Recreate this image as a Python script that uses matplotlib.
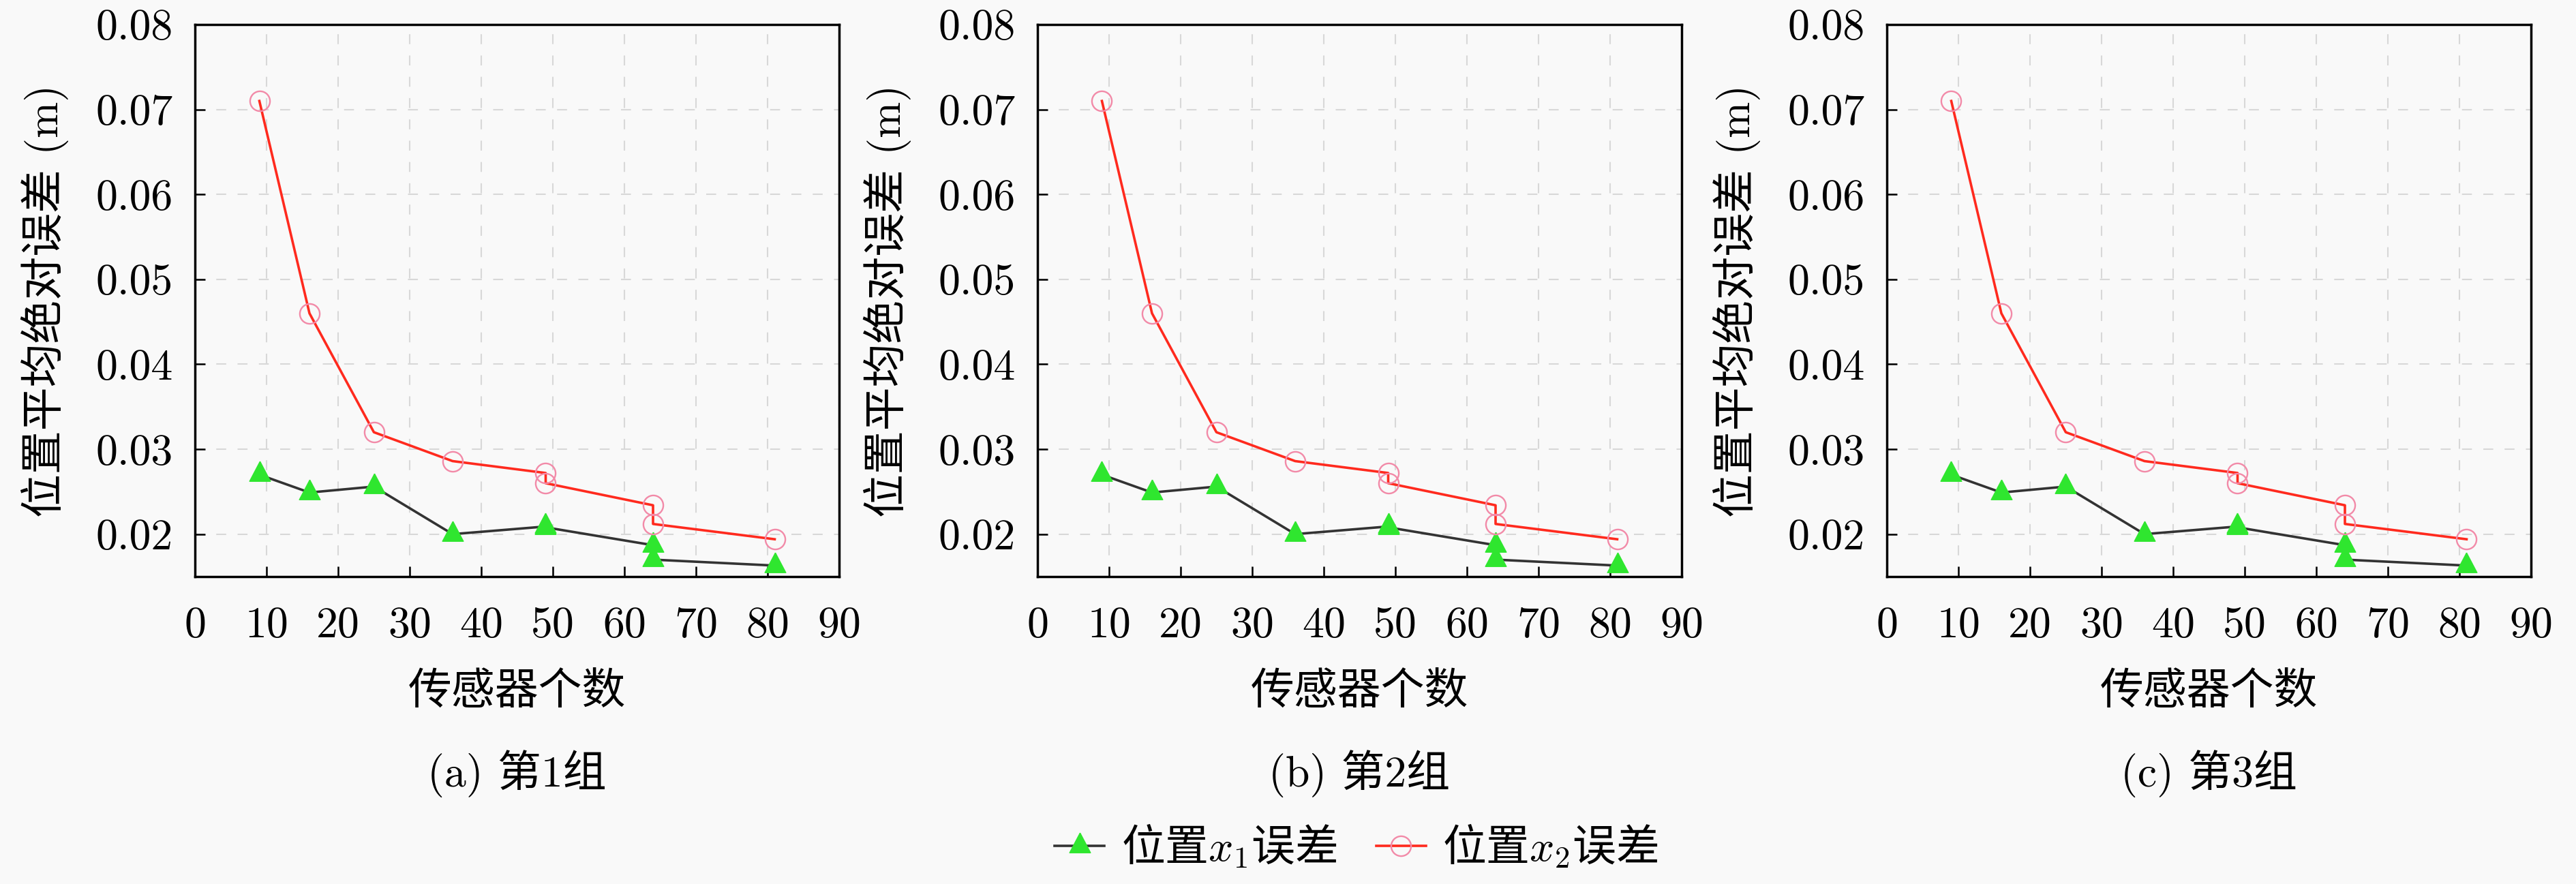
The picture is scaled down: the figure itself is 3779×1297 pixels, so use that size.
import matplotlib
matplotlib.use("Agg")
import matplotlib.pyplot as plt
from matplotlib.lines import Line2D

# ---------------- data ----------------
sensor_counts = [9, 16, 25, 36, 49, 49, 64, 64, 81]
err_x1 = [0.0270, 0.0249, 0.0256, 0.0200, 0.0209, 0.0208, 0.0187, 0.0170, 0.0163]
err_x2 = [0.0710, 0.0460, 0.0320, 0.0286, 0.0272, 0.0260, 0.0234, 0.0212, 0.0194]
panel_captions = ["(a) 第1组", "(b) 第2组", "(c) 第3组"]
xticks = [0, 10, 20, 30, 40, 50, 60, 70, 80, 90]
xtick_labels = ["0", "10", "20", "30", "40", "50", "60", "70", "80", "90"]
yticks = [0.02, 0.03, 0.04, 0.05, 0.06, 0.07, 0.08]
ytick_labels = ["0.02", "0.03", "0.04", "0.05", "0.06", "0.07", "0.08"]
xlabel = "传感器个数"
ylabel = "位置平均绝对误差 (m)"
legend_labels = ["位置$x_1$误差", "位置$x_2$误差"]

# ---------------- style ----------------
plt.rcParams['mathtext.fontset'] = 'cm'
plt.rcParams['font.family'] = ['cmr10', 'Noto Sans CJK SC']
plt.rcParams['axes.unicode_minus'] = False
FAM = ['cmr10', 'Noto Sans CJK SC']
FS = 46
BG = '#f9f9f9'
GREEN = '#2fe62f'
PINK = '#f28aa8'
RED = '#ff2a1e'
DARK = '#333333'
LW = 2.6

# triangle marker centred on its centroid (as in the reference)
_h = 1.9
TRI = [(0, 2 * _h / 3), (-1, -_h / 3), (1, -_h / 3), (0, 2 * _h / 3)]
TRI_MS = 28

W, H = 3780, 1297
fig = plt.figure(figsize=(W / 100, H / 100), dpi=100, facecolor=BG)

lefts = [286, 1522, 2768]
ax_w, ax_top, ax_bot = 945, 36, 846

for i, lp in enumerate(lefts):
    ax = fig.add_axes([lp / W, (H - ax_bot) / H, ax_w / W, (ax_bot - ax_top) / H])
    ax.set_facecolor(BG)
    ax.plot(sensor_counts, err_x1, color=DARK, lw=LW, marker=TRI, ms=TRI_MS,
            markerfacecolor=GREEN, markeredgecolor=GREEN, mew=1.0, zorder=3)
    ax.plot(sensor_counts, err_x2, color=RED, lw=LW, marker='o', ms=21,
            markerfacecolor='none', markeredgecolor=PINK, mew=1.7, zorder=4)
    ax.set_xlim(0, 90)
    ax.set_ylim(0.015, 0.08)
    ax.set_xticks(xticks)
    ax.set_xticklabels(xtick_labels, family=FAM, fontsize=FS)
    ax.set_yticks(yticks)
    ax.set_yticklabels(ytick_labels, family=FAM, fontsize=FS)
    ax.tick_params(axis='both', direction='in', length=11, width=1.8, colors='black')
    ax.tick_params(axis='x', pad=32)
    ax.tick_params(axis='y', pad=23)
    ax.grid(True, color='#d8d8d8', lw=1.5, linestyle=(0, (7, 8)))
    ax.set_axisbelow(True)
    for s in ax.spines.values():
        s.set_linewidth(2.5)
        s.set_color('black')
    ax.text(0.5, -0.211, xlabel, transform=ax.transAxes, ha='center', va='center',
            family=FAM, fontsize=FS)
    ax.text(0.5, -0.357, panel_captions[i], transform=ax.transAxes, ha='center',
            va='center', family=FAM, fontsize=FS)
    ax.set_ylabel(ylabel, family=FAM, fontsize=FS, va='center')
    ax.yaxis.set_label_coords(-0.233, 0.5)

handles = [
    Line2D([], [], color=DARK, lw=LW, marker=TRI, ms=TRI_MS, markerfacecolor=GREEN,
           markeredgecolor=GREEN, mew=1.0),
    Line2D([], [], color=RED, lw=LW, marker='o', ms=21, markerfacecolor='none',
           markeredgecolor=PINK, mew=1.7),
]
fig.legend(handles, legend_labels, loc='center', bbox_to_anchor=(1990 / W, 1 - 1243 / H),
           ncol=2, frameon=False, prop={'family': 'Noto Sans CJK SC', 'size': FS},
           handlelength=1.15, handletextpad=0.38, columnspacing=0.9)

fig.savefig('out.png', dpi=100, facecolor=BG)
